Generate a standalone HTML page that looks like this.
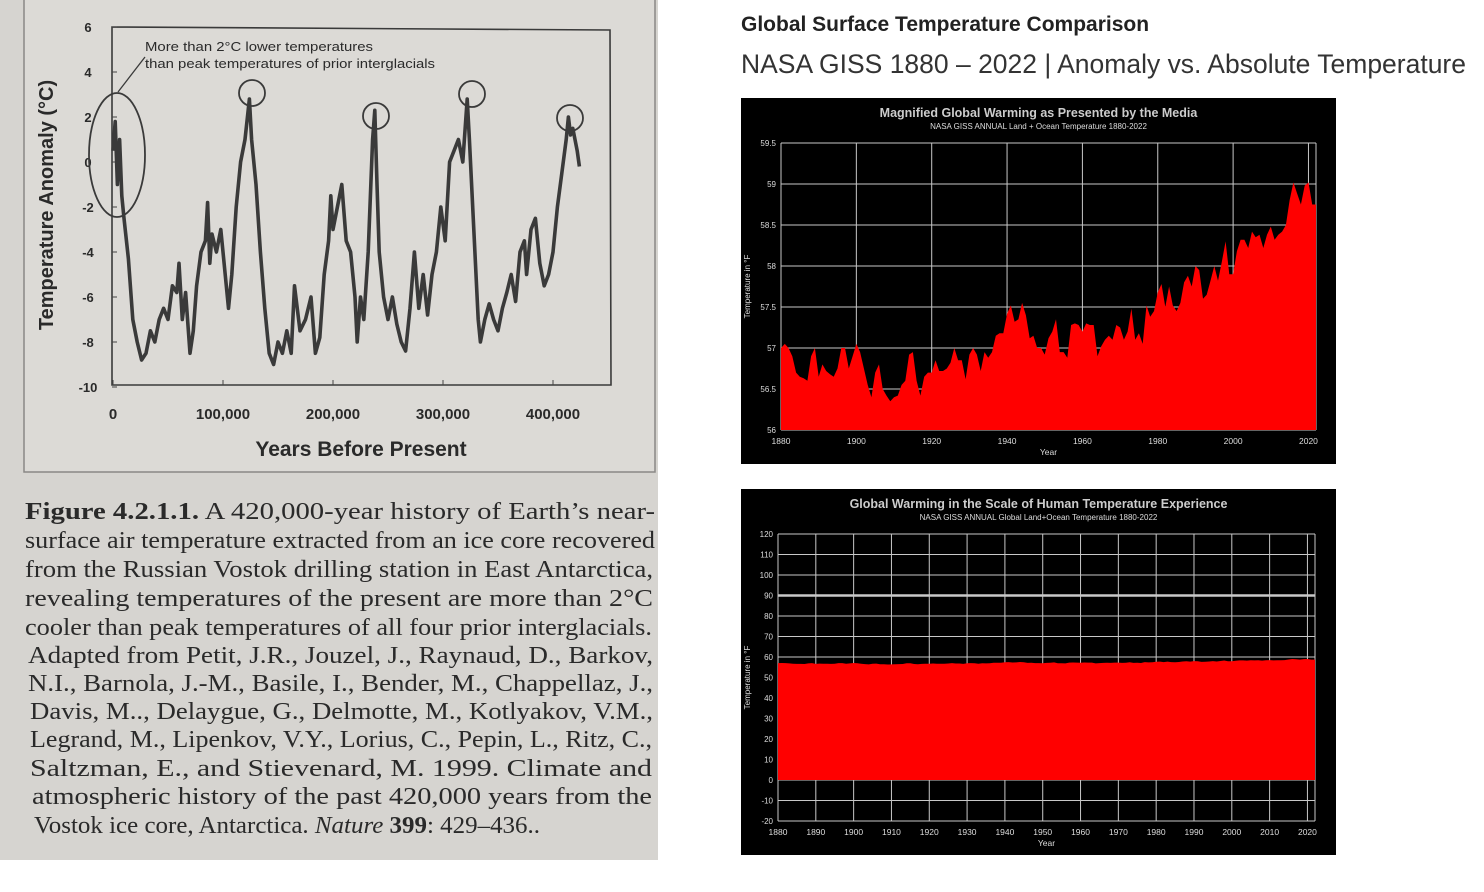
<!DOCTYPE html>
<html><head><meta charset="utf-8"><style>
html,body{margin:0;padding:0;background:#fff;width:1484px;height:892px;overflow:hidden}
svg{display:block}
</style></head><body>
<svg id="s" width="1484" height="892" xmlns="http://www.w3.org/2000/svg" font-family="Liberation Sans, sans-serif">
<rect x="0" y="0" width="658" height="860" fill="#d6d4d0"/>
<rect x="24" y="-2" width="631" height="474" fill="#dcdad6" stroke="#8a8886" stroke-width="1.5"/>
<g id="left"></g>
<g font-family="Liberation Serif, serif" font-size="24" fill="#2a2a2a">
<text x="25" y="519" textLength="630" lengthAdjust="spacingAndGlyphs"><tspan font-weight="bold">Figure 4.2.1.1.</tspan> A 420,000-year history of Earth’s near-</text>
<text x="25" y="548" textLength="630" lengthAdjust="spacingAndGlyphs">surface air temperature extracted from an ice core recovered</text>
<text x="25" y="577" textLength="628" lengthAdjust="spacingAndGlyphs">from the Russian Vostok drilling station in East Antarctica,</text>
<text x="25" y="606" textLength="628" lengthAdjust="spacingAndGlyphs">revealing temperatures of the present are more than 2°C</text>
<text x="25" y="635" textLength="627" lengthAdjust="spacingAndGlyphs">cooler than peak temperatures of all four prior interglacials.</text>
<text x="28" y="663" textLength="625" lengthAdjust="spacingAndGlyphs">Adapted from  Petit, J.R., Jouzel, J., Raynaud, D., Barkov,</text>
<text x="28" y="691" textLength="625" lengthAdjust="spacingAndGlyphs">N.I., Barnola, J.-M., Basile, I., Bender, M., Chappellaz, J.,</text>
<text x="30" y="719" textLength="623" lengthAdjust="spacingAndGlyphs">Davis, M.., Delaygue, G., Delmotte, M., Kotlyakov, V.M.,</text>
<text x="30" y="747" textLength="622" lengthAdjust="spacingAndGlyphs">Legrand, M., Lipenkov, V.Y., Lorius, C., Pepin, L., Ritz, C.,</text>
<text x="30" y="776" textLength="622" lengthAdjust="spacingAndGlyphs">Saltzman, E., and Stievenard, M. 1999. Climate and</text>
<text x="32" y="804" textLength="620" lengthAdjust="spacingAndGlyphs">atmospheric history of the past 420,000 years from the</text>
<text x="34" y="833" textLength="506" lengthAdjust="spacingAndGlyphs">Vostok ice core, Antarctica. <tspan font-style="italic">Nature</tspan> <tspan font-weight="bold">399</tspan>: 429–436..</text>
</g>
<text x="741" y="31" font-size="21" font-weight="bold" fill="#222">Global Surface Temperature Comparison</text>
<text x="741" y="73" font-size="27" fill="#333" textLength="725" lengthAdjust="spacingAndGlyphs">NASA GISS 1880 – 2022 | Anomaly vs. Absolute Temperature</text>
<g id="c1"></g>
<g id="c2"></g>
</svg>
<script>
// ---- Vostok data ----
const vostokKyr=[0,2,4,6,8,10,14,18,22,26,30,34,38,42,46,50,54,58,60,63,66,70,73,76,80,84,86,88,90,94,98,102,105,108,112,116,120,124,126,130,134,138,142,146,150,154,158,162,165,170,175,180,184,188,192,196,198,200,204,208,212,216,220,222,225,228,232,236,238,240,242,246,250,254,258,262,266,270,274,278,282,286,290,294,298,302,306,310,314,318,322,324,328,332,334,338,342,346,350,354,358,362,366,370,374,376,380,384,388,392,396,400,404,408,412,414,416,418,422,424];
const vostokTemp=[0.5,1.8,-1,1,-1.5,-2.5,-4.3,-7,-8,-8.8,-8.5,-7.5,-8,-7,-6.5,-7,-5.5,-5.8,-4.5,-7,-5.8,-8.5,-7.5,-5.5,-4,-3.5,-1.8,-4.5,-3.2,-4,-3,-5,-6.5,-5,-2,0,1,2.8,1,-1,-4,-6.5,-8.5,-9,-8,-8.5,-7.5,-8.5,-5.5,-7.5,-7,-6,-8.5,-7.8,-5,-3.5,-1.5,-3,-2,-1,-3.5,-4,-6,-8,-6,-7,-4,1,2.3,-1,-4,-6,-7,-6,-7.2,-8,-8.4,-6.5,-4,-6.5,-5,-6.8,-5,-4,-2,-3.5,0,0.5,1,0,2.8,1,-3,-7,-8,-7,-6.3,-7,-7.5,-6.5,-5.8,-5,-6.2,-4,-3.5,-5,-3,-2.5,-4.5,-5.5,-5,-4,-2,-0.5,1,2,1.2,1.5,0.5,-0.2];
const vYTicks=[6,4,2,0,-2,-4,-6,-8,-10];
const vXTicks=[0,100,200,300,400];
const vXLabels=["0","100,000","200,000","300,000","400,000"];
// ---- GISS data (°F) ----
const years=[];for(let y=1880;y<=2022;y++)years.push(y);
const tempF=[57.0,57.05,57.0,56.9,56.7,56.65,56.63,56.6,56.9,57.0,56.65,56.8,56.72,56.68,56.65,56.75,57.0,57.0,56.75,56.9,57.05,56.95,56.75,56.55,56.4,56.7,56.8,56.5,56.42,56.35,56.4,56.42,56.55,56.6,56.92,56.95,56.6,56.42,56.65,56.7,56.7,56.85,56.72,56.72,56.75,56.82,57.0,56.85,56.85,56.62,56.92,57.0,56.92,56.72,56.95,56.88,56.95,57.15,57.18,57.18,57.42,57.52,57.32,57.35,57.55,57.4,57.12,57.15,57.0,57.0,56.92,57.12,57.2,57.35,56.95,56.95,56.88,57.28,57.3,57.28,57.2,57.3,57.28,57.28,56.9,57.02,57.1,57.15,57.1,57.28,57.25,57.1,57.2,57.48,57.1,57.18,57.05,57.52,57.38,57.45,57.68,57.78,57.5,57.75,57.52,57.45,57.55,57.8,57.88,57.75,58.0,57.95,57.6,57.65,57.82,58.0,57.82,58.05,58.3,57.9,57.9,58.18,58.32,58.32,58.22,58.42,58.35,58.38,58.22,58.38,58.48,58.32,58.38,58.42,58.5,58.8,59.02,58.88,58.75,58.98,59.02,58.75,58.75];
const c1YTicks=[56,56.5,57,57.5,58,58.5,59,59.5];
const c1YLabels=["56","56.5","57","57.5","58","58.5","59","59.5"];
const c1XTicks=[1880,1900,1920,1940,1960,1980,2000,2020];
const c2YTicks=[-20,-10,0,10,20,30,40,50,60,70,80,90,100,110,120];
const c2XTicks=[1880,1890,1900,1910,1920,1930,1940,1950,1960,1970,1980,1990,2000,2010,2020];

const NS="http://www.w3.org/2000/svg";
function mk(p,t,a,txt){const e=document.createElementNS(NS,t);for(const k in a)e.setAttribute(k,a[k]);if(txt!==undefined)e.textContent=txt;p.appendChild(e);return e;}

// Left chart
(function(){
 const g=document.getElementById('left');
 const x=k=>113+k*1.1, y=v=>162-v*22.5;
 const ax=mk(g,'path',{d:`M112,27 L610,30 L611,385 L112,385 Z`,fill:'none',stroke:'#3a3a3a','stroke-width':1.6});
 
 vYTicks.forEach(v=>{const t=mk(g,'text',{x:88,y:y(v)+5,'font-size':13,'font-weight':'bold','text-anchor':'middle',fill:'#2a2a2a'},v);
  
  mk(g,'line',{x1:112,x2:117,y1:y(v),y2:y(v),stroke:'#444'});});
 vXTicks.forEach((k,i)=>{const t=mk(g,'text',{x:x(k),y:419,'font-size':15,'font-weight':'bold','text-anchor':'middle',fill:'#2a2a2a'},vXLabels[i]);
  
  mk(g,'line',{x1:x(k),x2:x(k),y1:385,y2:380,stroke:'#444'});});
 const yt=mk(g,'text',{transform:'translate(53,205) rotate(-90)','font-size':20,'font-weight':'bold','text-anchor':'middle',fill:'#2a2a2a'},'Temperature Anomaly (°C)');
 
 const xt=mk(g,'text',{x:361,y:456,'font-size':21,'font-weight':'bold','text-anchor':'middle',fill:'#2a2a2a'},'Years Before Present');
 
 let d='';vostokKyr.forEach((k,i)=>{d+=(i?'L':'M')+x(k).toFixed(1)+','+y(vostokTemp[i]).toFixed(1);});
 const ln=mk(g,'path',{d:d,fill:'none',stroke:'#3a3a3a','stroke-width':3.6,'stroke-linejoin':'round'});
 
 const el=mk(g,'ellipse',{cx:117,cy:155,rx:28,ry:62,fill:'none',stroke:'#3a3a3a','stroke-width':1.8});
 
 [[252,93],[376,116],[472,94],[570,118]].forEach(c=>{const ci=mk(g,'circle',{cx:c[0],cy:c[1],r:13,fill:'none',stroke:'#3a3a3a','stroke-width':1.8});
  });
 mk(g,'line',{x1:145,y1:57,x2:118,y2:92,stroke:'#3a3a3a','stroke-width':1.3});
 const a1=mk(g,'text',{x:145,y:51,'font-size':13,fill:'#2a2a2a',textLength:228,lengthAdjust:'spacingAndGlyphs'},'More than 2°C lower temperatures');
 
 mk(g,'text',{x:145,y:68,'font-size':13,fill:'#2a2a2a',textLength:290,lengthAdjust:'spacingAndGlyphs'},'than peak temperatures of prior interglacials');
})();

function chart(gid,box,pl,yT,yLab,yMin,yMax,xT,title,sub){
 const g=document.getElementById(gid);
 const bg=mk(g,'rect',{x:box[0],y:box[1],width:box[2],height:box[3],fill:'#000'});
 
 const x=yr=>pl.l+(yr-1880)*(pl.r-pl.l)/(2022-1880);
 const y=v=>pl.b-(v-yMin)*(pl.b-pl.t)/(yMax-yMin);
 const base=yMin<0?y(0):pl.b;
 yT.forEach((v,i)=>{mk(g,'line',{x1:pl.l,x2:pl.r,y1:y(v),y2:y(v),stroke:'#c8c8c8','stroke-width':v===90?2.5:1});
  const t=mk(g,'text',{x:pl.l-5,y:y(v)+3,'font-size':8,fill:'#ddd','text-anchor':'end'},yLab?yLab[i]:v);
  });
 xT.forEach(yr=>{mk(g,'line',{x1:x(yr),x2:x(yr),y1:pl.t,y2:pl.b,stroke:'#c8c8c8','stroke-width':1});
  const t=mk(g,'text',{x:x(yr),y:pl.b+14,'font-size':8.5,fill:'#ddd','text-anchor':'middle'},yr);
  });
 mk(g,'line',{x1:pl.r,x2:pl.r,y1:pl.t,y2:pl.b,stroke:'#c8c8c8'});
 mk(g,'line',{x1:pl.l,x2:pl.r,y1:pl.b,y2:pl.b,stroke:'#c8c8c8'});
 mk(g,'line',{x1:pl.l,x2:pl.r,y1:pl.t,y2:pl.t,stroke:'#c8c8c8'});
 let d=`M${x(1880)},${base}`;
 years.forEach((yr,i)=>{d+=`L${x(yr).toFixed(1)},${y(tempF[i]).toFixed(1)}`;});
 d+=`L${x(2022)},${base}Z`;
 const ar=mk(g,'path',{d:d,fill:'#ff0000'});
 
 const cx=box[0]+box[2]/2;
 const tt=mk(g,'text',{x:cx,y:box[1]+19,'font-size':12.5,'font-weight':'bold',fill:'#ccc','text-anchor':'middle'},title);
 
 const st=mk(g,'text',{x:cx,y:box[1]+31,'font-size':8,fill:'#ddd','text-anchor':'middle'},sub);
 
 const xa=mk(g,'text',{x:(pl.l+pl.r)/2,y:pl.b+25,'font-size':8.5,fill:'#ddd','text-anchor':'middle'},'Year');
 
 const ya=mk(g,'text',{transform:`translate(${box[0]+9},${(pl.t+pl.b)/2}) rotate(-90)`,'font-size':8,fill:'#ddd','text-anchor':'middle'},'Temperature in °F');
 
}
chart('c1',[741,98,595,366],{l:781,r:1316,t:143,b:430},c1YTicks,c1YLabels,56,59.5,c1XTicks,'Magnified Global Warming as Presented by the Media','NASA GISS ANNUAL Land + Ocean Temperature 1880-2022');
chart('c2',[741,489,595,366],{l:778,r:1315,t:534,b:821},c2YTicks,null,-20,120,c2XTicks,'Global Warming in the Scale of Human Temperature Experience','NASA GISS ANNUAL Global Land+Ocean Temperature 1880-2022');
</script>
</body></html>
